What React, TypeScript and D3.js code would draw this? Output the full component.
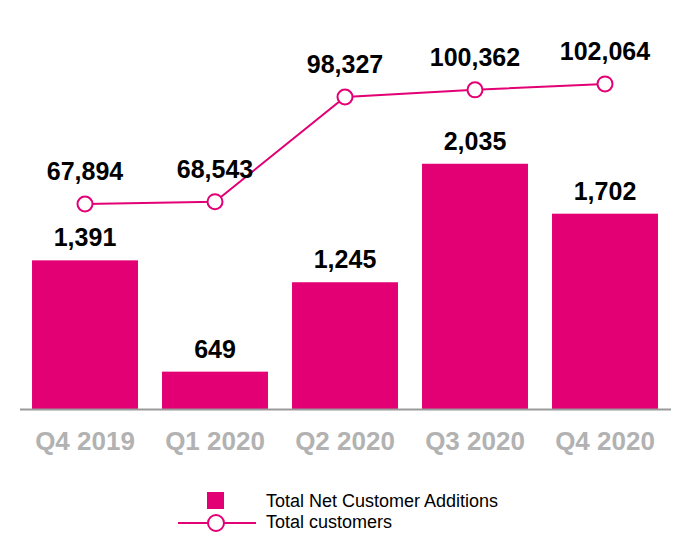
import React from "react";
import * as d3 from "d3";

const categories = ["Q4 2019", "Q1 2020", "Q2 2020", "Q3 2020", "Q4 2020"];
const netAdditions = [1391, 649, 1245, 2035, 1702];
const totalCustomers = [67894, 68543, 98327, 100362, 102064];
const legendLabels = ["Total Net Customer Additions", "Total customers"];

const MAGENTA = "#E20074";
const FONT = "'Liberation Sans', Arial, sans-serif";

export default function App() {
  const width = 690;
  const height = 560;
  const x = d3
    .scaleBand<string>()
    .domain(categories)
    .range([20, 670])
    .paddingInner(0.185)
    .paddingOuter(0.0925);
  const yBar = d3.scaleLinear().domain([400, 2400]).range([409, 109]);
  const yLine = d3.scaleLinear().domain([40000, 110000]).range([302, 56]);
  const fmt = d3.format(",");
  const cx = (c: string) => (x(c) ?? 0) + x.bandwidth() / 2;
  const line = d3
    .line<number>()
    .x((_, i) => cx(categories[i]))
    .y((d) => yLine(d));

  return (
    <svg
      width={width}
      height={height}
      style={{ position: "absolute", left: 0, top: 0, background: "#fff" }}
      fontFamily={FONT}
    >
      {categories.map((c, i) => (
        <g key={c}>
          <rect
            x={x(c)}
            y={yBar(netAdditions[i])}
            width={x.bandwidth()}
            height={yBar(400) - yBar(netAdditions[i])}
            fill={MAGENTA}
          />
          <text
            x={cx(c)}
            y={yBar(netAdditions[i]) - 14}
            textAnchor="middle"
            fontSize={25}
            fontWeight="bold"
            fill="#000"
          >
            {fmt(netAdditions[i])}
          </text>
          <text
            x={cx(c)}
            y={450}
            textAnchor="middle"
            fontSize={26}
            fontWeight="bold"
            fill="#b2b2b2"
          >
            {c}
          </text>
        </g>
      ))}
      <line x1={20} x2={671} y1={409.5} y2={409.5} stroke="#9a9a9a" strokeWidth={2} />
      <path d={line(totalCustomers) ?? ""} fill="none" stroke={MAGENTA} strokeWidth={2} />
      {categories.map((c, i) => (
        <g key={"p" + c}>
          <circle
            cx={cx(c)}
            cy={yLine(totalCustomers[i])}
            r={7.5}
            fill="#fff"
            stroke={MAGENTA}
            strokeWidth={2}
          />
          <text
            x={cx(c)}
            y={yLine(totalCustomers[i]) - 24}
            textAnchor="middle"
            fontSize={25}
            fontWeight="bold"
            fill="#000"
          >
            {fmt(totalCustomers[i])}
          </text>
        </g>
      ))}
      <g>
        <rect x={207} y={492} width={17} height={17} fill={MAGENTA} />
        <text x={266} y={507} fontSize={18} fill="#000">
          {legendLabels[0]}
        </text>
        <line x1={178} x2={256} y1={523} y2={523} stroke={MAGENTA} strokeWidth={2} />
        <circle cx={216} cy={523} r={8} fill="#fff" stroke={MAGENTA} strokeWidth={2} />
        <text x={266} y={528} fontSize={18} fill="#000">
          {legendLabels[1]}
        </text>
      </g>
    </svg>
  );
}
